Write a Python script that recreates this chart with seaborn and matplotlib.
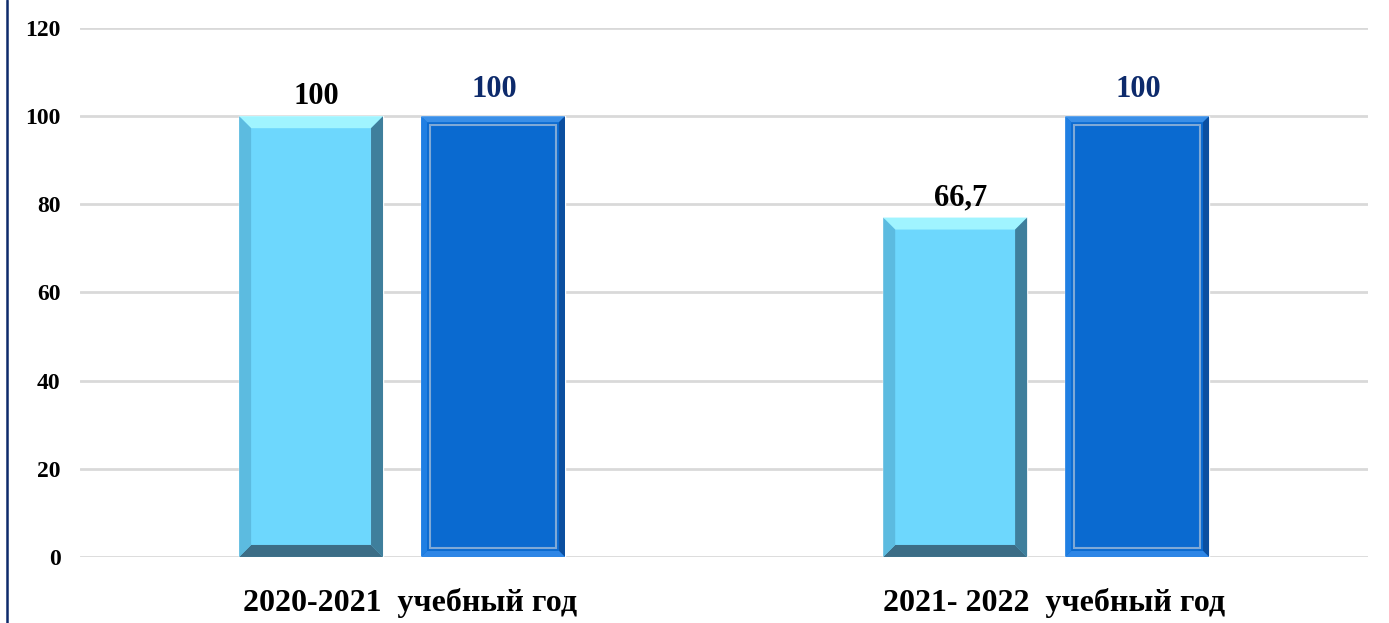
import matplotlib
matplotlib.use("Agg")
import matplotlib.pyplot as plt
import matplotlib.transforms as mtransforms
import seaborn as sns
import pandas as pd
from matplotlib.patches import Polygon
from matplotlib.lines import Line2D

# ---- data ----
categories = ["2020-2021  учебный год", "2021- 2022  учебный год"]
series_names = ["Ряд 1", "Ряд 2"]
light_values = [100, 77]
dark_values = [100, 100]
light_labels = ["100", "66,7"]
dark_labels = ["100", "100"]
y_ticks = [0, 20, 40, 60, 80, 100, 120]

df = pd.DataFrame({
    "cat": categories * 2,
    "series": [series_names[0]] * 2 + [series_names[1]] * 2,
    "value": light_values + dark_values,
})

sns.set_theme(style="white")
plt.rcParams["font.family"] = ["Liberation Serif", "DejaVu Serif"]

fig = plt.figure(figsize=(13.89, 6.23), dpi=100)
ax = fig.add_axes([0.0576, 0.106, 0.9274, 0.849])

light_c = "#6DD7FD"
dark_c = "#0A6AD0"
sns.barplot(data=df, x="cat", y="value", hue="series", order=categories,
            hue_order=series_names, palette=[light_c, dark_c],
            width=0.565, gap=0.209, ax=ax, legend=False, saturation=1)

ax.set_ylim(0, 120)
ax.set_yticks(y_ticks)
ax.set_xlim(-0.5, 1.5)
ax.yaxis.grid(True, color="#D9D9D9", linewidth=2)
ax.set_axisbelow(True)
for s in ax.spines.values():
    s.set_visible(False)
ax.set_xlabel("")
ax.set_ylabel("")
ax.tick_params(axis="y", length=0, pad=14, labelsize=17)
ax.tick_params(axis="x", length=0, pad=22, labelsize=23)
for t in ax.get_yticklabels() + ax.get_xticklabels():
    t.set_fontweight("bold")
    t.set_color("black")
shift = mtransforms.ScaledTranslation(8 / 100, 0, fig.dpi_scale_trans)
for t in ax.get_xticklabels():
    t.set_transform(t.get_transform() + shift)

# bevel decoration derived from the drawn bars
bars = ax.patches
px_x = (ax.get_xlim()[1] - ax.get_xlim()[0]) / (0.9274 * 1389)
px_y = 120 / (0.849 * 623)
for i, p in enumerate(bars):
    x0 = p.get_x(); w = p.get_width(); h = p.get_height()
    x1 = x0 + w
    is_light = i < 2
    b = 12
    bx = b * px_x; by = b * px_y
    if is_light:
        cols = {"top": "#A0F4FF", "right": "#3F7F9C", "bottom": "#3C6D86", "left": "#5CBBE0"}
    else:
        cols = {"top": "#3A8FE8", "right": "#0B4FA0", "bottom": "#2E86E6", "left": "#1F7FE3"}
        bx = 6 * px_x; by = 6 * px_y
    top = [(x0, h), (x1, h), (x1 - bx, h - by), (x0 + bx, h - by)]
    right = [(x1, h), (x1, 0), (x1 - bx, by), (x1 - bx, h - by)]
    bottom = [(x0, 0), (x1, 0), (x1 - bx, by), (x0 + bx, by)]
    left = [(x0, 0), (x0, h), (x0 + bx, h - by), (x0 + bx, by)]
    for key, pts in (("top", top), ("right", right), ("bottom", bottom), ("left", left)):
        ax.add_patch(Polygon(pts, closed=True, facecolor=cols[key], edgecolor="none", zorder=3))
    if not is_light:
        ib = 9
        ax.add_patch(plt.Rectangle((x0 + ib * px_x, ib * px_y), w - 2 * ib * px_x,
                                   h - 2 * ib * px_y, fill=False,
                                   edgecolor="#7FA9D6", linewidth=1.5, zorder=3))

# value labels
for i, p in enumerate(bars[:2]):
    ax.annotate(light_labels[i], (p.get_x() + p.get_width() / 2, p.get_height()),
                xytext=(4, 9), textcoords="offset points", ha="center", va="baseline",
                fontsize=22, fontweight="bold", color="black")
for i, p in enumerate(bars[2:4]):
    ax.annotate(dark_labels[i], (p.get_x() + p.get_width() / 2, p.get_height()),
                xytext=(1, 14), textcoords="offset points", ha="center", va="baseline",
                fontsize=22, fontweight="bold", color="#0D2A6B")

# left frame line
fig.add_artist(Line2D([7.5 / 1389, 7.5 / 1389], [0, 1], transform=fig.transFigure,
                      color="#0D2A6B", linewidth=1.8))

fig.savefig("out.png", dpi=100)
